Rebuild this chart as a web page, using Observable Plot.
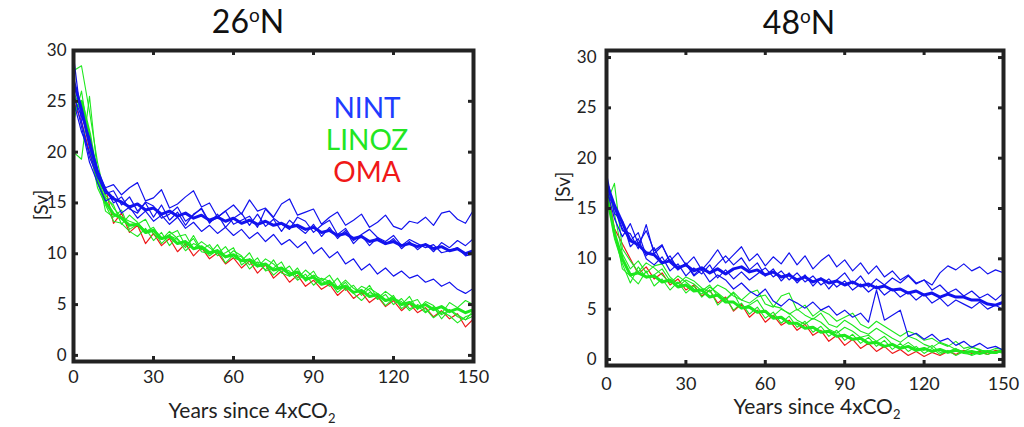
<!DOCTYPE html>
<html><head><meta charset="utf-8">
<script src="https://cdn.jsdelivr.net/npm/d3@7"></script>
<script src="https://cdn.jsdelivr.net/npm/@observablehq/plot@0.6"></script>
<style>
body{margin:0;background:#fff;font-family:Lato,"Noto Sans",sans-serif;color:#222;}
#wrap{position:relative;width:1024px;height:427px;overflow:hidden;background:#fff;}
.svgbox{position:absolute;top:0;}
.t{position:absolute;transform:translate(-50%,-50%);white-space:nowrap;}
.title{font-size:32px;color:#111;}
.title span{font-size:19px;vertical-align:11px;}
.xl{font-size:21px;color:#222;}
.xl sub{font-size:13px;vertical-align:-5px;}
.yl{font-size:19px;color:#222;transform:translate(-50%,-50%) rotate(-90deg);}
.leg{font-size:28px;}
</style></head><body>
<div id="wrap">
  <div class="t title" style="left:248px;top:20px">26<span>o</span>N</div>
  <div class="t title" style="left:799px;top:21px">48<span>o</span>N</div>
  <div class="t xl" style="left:252px;top:411px">Years since 4xCO<sub>2</sub></div>
  <div class="t xl" style="left:817px;top:407px">Years since 4xCO<sub>2</sub></div>
  <div class="t yl" style="left:40px;top:205px">[Sv]</div>
  <div class="t yl" style="left:562px;top:187px">[Sv]</div>
  <div class="t leg" style="left:367px;top:107px;color:#1e3cff">NINT</div>
  <div class="t leg" style="left:367px;top:139px;color:#22e622">LINOZ</div>
  <div class="t leg" style="left:367px;top:171px;color:#f01818">OMA</div>
</div>
<script>
const years = [0,3,6,9,12,15,18,21,24,27,30,33,36,39,42,45,48,51,54,57,60,63,66,69,72,75,78,81,84,87,90,93,96,99,102,105,108,111,114,117,120,123,126,129,132,135,138,141,144,147,150];
const xTickLabels = [0,30,60,90,120,150];
const xInnerTicks = [30,60,90,120];
const yTickLabels = [0,5,10,15,20,25,30];

// ---- 26N ----
const nint26 = [
 [25,22,20,17.5,16.5,16.8,15.8,16.5,17.0,15.2, 15.5,16.3,14.5,14.9,15.6,16.2,14.6,15.0,13.6,14.2, 14.8,13.9,15.3,14.2,14.5,13.6,14.9,15.4,13.8,14.1, 14.4,12.9,13.6,14.1,12.8,13.3,13.9,12.6,13.1,13.8, 12.7,12.4,13.2,13.0,13.6,12.8,14.0,14.2,13.4,13.0, 14.3],
 [29.5,23,19.5,17.6,15.9,16.2,14.8,15.6,14.2,15.0, 13.6,14.8,13.3,14.1,12.8,13.9,14.4,13.0,13.9,12.6, 13.5,14.0,12.8,13.9,12.7,13.4,12.2,13.3,12.6,12.0, 12.9,11.7,12.6,11.5,12.3,11.0,11.8,10.8,11.6,10.9, 11.5,10.5,11.2,10.4,11.0,10.2,11.1,10.6,11.3,10.8, 11.5],
 [26,22.5,19,17,15.2,15.6,14.0,14.6,13.5,14.2, 13.2,13.8,12.9,13.6,12.5,13.1,12.2,12.8,12.0,12.6, 11.8,12.4,11.5,12.1,11.2,11.9,10.9,11.4,10.6,11.2, 10.0,10.6,9.6,10.2,9.0,9.5,8.4,9.0,8.0,8.6, 7.8,8.3,7.6,7.9,7.2,7.5,6.8,7.2,6.5,6.1, 6.6],
 [25.5,23.5,21.5,18.2,16.4,15.0,15.6,14.4,14.0,15.1, 14.7,13.5,13.9,14.6,13.2,13.8,14.5,13.1,13.6,14.2, 12.9,13.3,13.7,12.6,14.4,13.5,12.9,12.4,13.6,13.2, 12.1,12.8,13.3,11.9,12.5,11.3,11.9,12.4,11.6,11.2, 11.8,10.8,11.4,11.0,10.6,10.9,10.1,10.3,10.6,9.8, 10.0]
];
const nint26Mean = [27.0,24.2,20.8,18.1,16.2,15.4,15.1,14.6,14.9,14.3, 14.5,13.9,14.2,13.7,14.0,13.5,13.8,13.3,13.6,13.2, 13.5,13.0,13.3,12.9,13.2,12.8,13.0,12.6,12.8,12.4, 12.6,12.1,12.3,11.8,12.0,11.5,11.7,11.2,11.4,11.0, 11.2,10.8,11.0,10.7,10.9,10.5,10.7,10.3,10.5,10.0, 10.3];
const linoz26 = [
 [28,28.5,24,19,15.5,14.8,12.9,13.8,13.1,12.2, 12.6,11.4,11.9,12.3,10.8,11.5,10.2,10.0,10.9,9.6, 10.3,9.8,8.9,9.6,8.3,8.6,9.2,7.8,8.1,7.6, 8.3,7.0,7.4,6.5,7.2,6.1,6.8,6.4,5.5,6.0, 5.0,5.6,4.6,4.9,4.2,4.8,3.6,4.5,4.0,3.5, 3.9],
 [20,19.3,25.5,18,14.2,13.6,14.3,12.4,12.9,13.4, 11.9,11.4,12.2,11.5,10.6,11.8,10.4,10.9,9.8,10.1, 10.6,8.9,9.5,9.1,8.4,9.4,8.1,7.8,8.6,7.3, 7.9,7.5,6.8,7.6,6.4,6.9,5.9,6.6,6.1,5.3, 5.9,4.6,5.2,5.5,4.3,4.7,4.0,4.5,3.8,3.5, 4.4],
 [26,24,20.5,16.5,14.8,13.2,13.0,12.2,11.7,12.5, 11.3,12.1,10.8,11.7,11.9,10.5,11.2,10.6,10.0,10.7, 9.6,9.3,10.1,8.7,9.5,9.0,8.2,8.8,7.6,8.4, 7.7,7.3,7.9,6.7,7.4,6.6,6.1,6.9,5.6,6.3, 5.7,5.0,5.8,4.5,5.3,4.9,4.1,5.2,4.7,5.4, 5.0],
 [23,26,21,17.5,15.8,14.5,13.6,13.2,12.9,12.0, 12.4,11.0,11.8,11.4,10.3,11.0,10.6,9.8,10.4,9.1, 9.9,9.7,8.5,9.2,8.9,7.9,8.6,8.3,7.4,8.0, 6.9,7.6,7.3,6.2,6.9,6.1,5.4,6.2,5.9,4.9, 5.6,5.3,4.4,5.0,4.6,3.7,4.3,3.9,3.2,3.8, 4.1]
];
const linoz26Mean = [24.0,25.0,21.8,17.2,15.1,13.9,13.5,12.8,12.9,12.1, 12.3,11.5,11.7,11.0,11.2,10.5,10.7,10.1,10.3,9.7, 9.9,9.3,9.4,8.8,9.0,8.4,8.6,8.0,8.2,7.5, 7.7,7.0,7.2,6.6,6.8,6.2,6.4,5.8,6.0,5.4, 5.6,5.0,5.2,4.7,5.0,4.5,4.8,4.3,4.6,4.2, 4.5];
const oma26 = [25,23,20,17,16.5,13.0,14.0,12.1,12.8,11.0, 12.0,10.8,11.5,10.2,11.0,9.8,10.6,9.5,10.1,9.0, 9.6,8.6,9.3,8.1,8.9,7.6,8.3,7.2,7.9,6.8, 7.4,6.5,7.0,5.9,6.6,5.6,6.2,5.2,5.8,4.8, 5.4,4.4,5.1,4.2,4.7,3.8,4.4,3.6,4.1,2.8, 3.6];

// ---- 48N ----
const nint48 = [
 [18,15,12.8,12.5,11.0,13.4,10.5,11.3,9.8,10.6, 9.4,10.2,8.9,9.8,10.9,9.6,10.4,11.2,9.8,10.5, 9.3,10.2,9.5,10.6,9.4,10.3,9.0,9.8,10.4,9.2, 9.9,8.8,9.6,8.5,9.3,8.2,8.8,7.9,8.4,7.6, 7.9,7.4,8.6,9.3,8.9,9.5,8.8,9.2,8.5,8.9, 8.6],
 [17,14,12.2,13.5,11.5,12.8,10.8,11.4,9.6,8.9, 9.5,8.3,8.9,7.7,8.4,7.9,7.0,7.6,6.8,6.3, 7.0,5.8,5.3,6.0,5.6,5.1,5.7,4.9,5.3,4.4, 4.9,4.2,4.6,3.7,6.9,3.9,4.4,4.9,2.3,2.6, 2.0,2.5,1.8,2.1,1.4,1.8,1.2,1.6,1.1,1.3, 0.9],
 [16.5,15.2,13.0,11.8,12.6,10.3,11.1,9.5,10.3,8.9, 9.6,8.4,9.1,8.6,9.5,10.3,9.4,10.1,8.9,9.6, 8.3,9.0,7.8,8.6,7.6,8.4,7.3,8.1,7.0,7.9, 8.6,7.5,8.3,7.2,8.0,7.4,8.1,7.6,8.3,7.5, 7.9,6.9,7.4,6.6,7.0,6.3,6.8,6.1,6.5,5.9, 6.6],
 [18.5,14.5,13.8,11.2,12.0,10.0,9.4,10.2,8.8,9.5, 8.3,9.1,8.5,9.4,8.1,8.9,8.0,8.7,7.9,8.5, 9.1,8.2,8.8,7.9,8.6,7.7,8.3,7.4,8.0,7.2, 7.8,6.9,7.5,6.7,7.3,6.4,7.0,6.2,6.7,5.9, 6.5,5.6,6.1,5.3,5.9,5.5,5.1,5.7,5.0,5.4, 4.9]
];
const nint48Mean = [17.5,15.3,13.6,11.8,11.4,10.6,10.4,9.6,9.8,9.1, 9.4,8.8,9.1,8.6,9.0,8.5,9.0,9.2,8.7,8.9, 8.4,8.7,8.2,8.4,7.9,8.2,7.7,8.0,7.6,7.8, 7.4,7.7,7.3,7.5,7.1,7.3,6.9,7.0,6.6,6.8, 6.4,6.6,6.2,6.5,6.2,6.2,5.9,5.9,5.5,5.4, 5.7];
const linoz48 = [
 [17,12.0,9.5,7.6,9.2,8.1,8.4,9.0,7.8,7.2, 7.9,7.5,6.8,7.4,6.3,5.9,6.6,5.1,5.4,5.9, 4.7,4.3,5.0,4.6,3.9,3.5,4.1,3.7,3.0,2.6, 3.2,2.8,2.2,2.4,1.8,2.3,1.5,1.2,1.7,1.1, 0.9,1.4,0.7,0.8,1.1,0.6,0.5,0.9,0.8,0.6, 0.9],
 [15.5,17.5,11.0,9.8,8.7,9.6,9.1,8.4,7.6,8.3, 7.7,7.0,6.5,7.2,6.6,6.0,6.7,5.9,5.6,6.2, 6.4,5.3,5.1,4.5,5.0,4.4,4.0,4.6,3.5,3.2, 3.9,3.4,2.8,2.5,3.1,2.6,2.1,1.7,2.3,2.0, 1.5,1.2,1.7,1.4,1.0,0.8,1.2,1.0,0.7,0.6, 0.9],
 [16,13.0,9.0,8.3,7.5,8.8,7.3,8.0,6.9,7.7, 6.6,7.3,6.2,6.9,5.4,6.1,4.9,5.6,4.5,5.2, 4.1,4.7,3.6,4.3,3.2,3.8,2.7,3.3,2.3,2.9, 1.9,2.5,1.6,2.2,1.3,1.9,1.0,1.6,0.8,1.3, 0.6,1.1,0.5,0.9,0.4,0.8,0.4,0.7,0.5,0.8, 0.6],
 [17.5,14.5,10.5,9.0,9.8,8.6,9.3,9.5,8.2,7.5, 8.2,7.8,7.1,6.7,7.4,7.0,6.3,5.9,6.6,6.9, 5.5,5.2,6.3,6.6,4.9,5.4,4.3,4.9,4.5,3.8, 4.2,4.6,3.5,3.1,3.8,3.3,2.8,2.3,2.8,2.5, 1.9,2.1,1.6,1.3,1.8,1.1,1.3,0.9,0.8,1.1, 1.0]
];
const linoz48Mean = [16.5,12.5,10.0,8.4,8.6,8.2,8.3,7.7,7.9,7.2, 7.4,6.8,6.9,6.2,6.4,5.7,5.7,5.1,5.2,4.7, 4.8,4.1,4.2,3.6,3.6,3.1,3.2,2.7,2.8,2.3, 2.4,2.0,2.1,1.6,1.7,1.3,1.5,1.1,1.3,0.9, 1.1,0.8,1.0,0.7,0.9,0.7,0.8,0.6,0.8,0.7, 0.9];
const oma48 = [17.5,13.0,11.5,10.0,8.5,9.2,8.0,8.6,7.4,8.0, 6.9,7.4,6.3,6.9,5.6,6.2,4.8,5.5,4.2,4.9, 3.7,4.4,3.4,3.9,2.9,3.5,2.4,2.9,1.8,2.4, 1.4,2.0,1.1,1.6,0.8,1.3,0.6,1.0,0.4,0.8, 0.3,0.7,0.4,0.8,0.5,0.9,0.6,0.8,0.5,0.9, 0.7];

const BLUE = "#1212ee", GREEN = "#1ee81e", RED = "#ee1a1a", INK = "#222";

function toRows(arrs, id) {
  const out = [];
  arrs.forEach((a, i) => a.forEach((v, j) => out.push({year: years[j], value: v, id: id + i})));
  return out;
}

function panel({left, width, mL, mR, mT, mB, yDomain, padY, padX, nint, nintMean, linoz, linozMean, oma}) {
  const H = 427;
  const plotW = width - mL - mR, plotH = H - mT - mB;
  const tk = 5;
  const svg = Plot.plot({
    width, height: H, marginLeft: mL, marginRight: mR, marginTop: mT, marginBottom: mB,
    x: {domain: [0, 150]},
    y: {domain: yDomain},
    style: {fontFamily: "Lato, 'Noto Sans', sans-serif", fontSize: "17px", color: INK, background: "transparent", overflow: "visible"},
    marks: [
      Plot.line(toRows([oma], "o"), {x: "year", y: "value", z: "id", stroke: RED, strokeWidth: 1.2, clip: true}),
      Plot.line(toRows(linoz, "l"), {x: "year", y: "value", z: "id", stroke: GREEN, strokeWidth: 1.1, clip: true}),
      Plot.line(toRows([linozMean], "lm"), {x: "year", y: "value", z: "id", stroke: GREEN, strokeWidth: 3, clip: true}),
      Plot.line(toRows(nint, "n"), {x: "year", y: "value", z: "id", stroke: BLUE, strokeWidth: 1.2, clip: true}),
      Plot.line(toRows([nintMean], "nm"), {x: "year", y: "value", z: "id", stroke: BLUE, strokeWidth: 3, clip: true}),
      Plot.ruleX(xInnerTicks, {x: d => d, insetTop: plotH - tk, stroke: INK, strokeWidth: 3}),
      Plot.ruleX(xInnerTicks, {x: d => d, insetBottom: plotH - tk, stroke: INK, strokeWidth: 3}),
      Plot.ruleY(yTickLabels, {y: d => d, insetRight: plotW - tk, stroke: INK, strokeWidth: 3}),
      Plot.ruleY(yTickLabels, {y: d => d, insetLeft: plotW - tk, stroke: INK, strokeWidth: 3}),
      Plot.frame({stroke: INK, strokeWidth: 4}),
      Plot.axisY({ticks: yTickLabels, tickSize: 0, tickPadding: padY, label: null, fontSize: 17}),
      Plot.axisX({ticks: xTickLabels, tickSize: 0, tickPadding: padX, label: null, fontSize: 18})
    ]
  });
  const box = document.createElement("div");
  box.className = "svgbox";
  box.style.left = left + "px";
  box.appendChild(svg);
  document.getElementById("wrap").prepend(box);
}

panel({left: 0, width: 512, mL: 73, mR: 39, mT: 50, mB: 66, yDomain: [-0.6, 30], padY: 7, padX: 9,
  nint: nint26, nintMean: nint26Mean, linoz: linoz26, linozMean: linoz26Mean, oma: oma26});
panel({left: 512, width: 512, mL: 94, mR: 21, mT: 50, mB: 62, yDomain: [-0.6, 30.7], padY: 10, padX: 12,
  nint: nint48, nintMean: nint48Mean, linoz: linoz48, linozMean: linoz48Mean, oma: oma48});
</script>
</body></html>
